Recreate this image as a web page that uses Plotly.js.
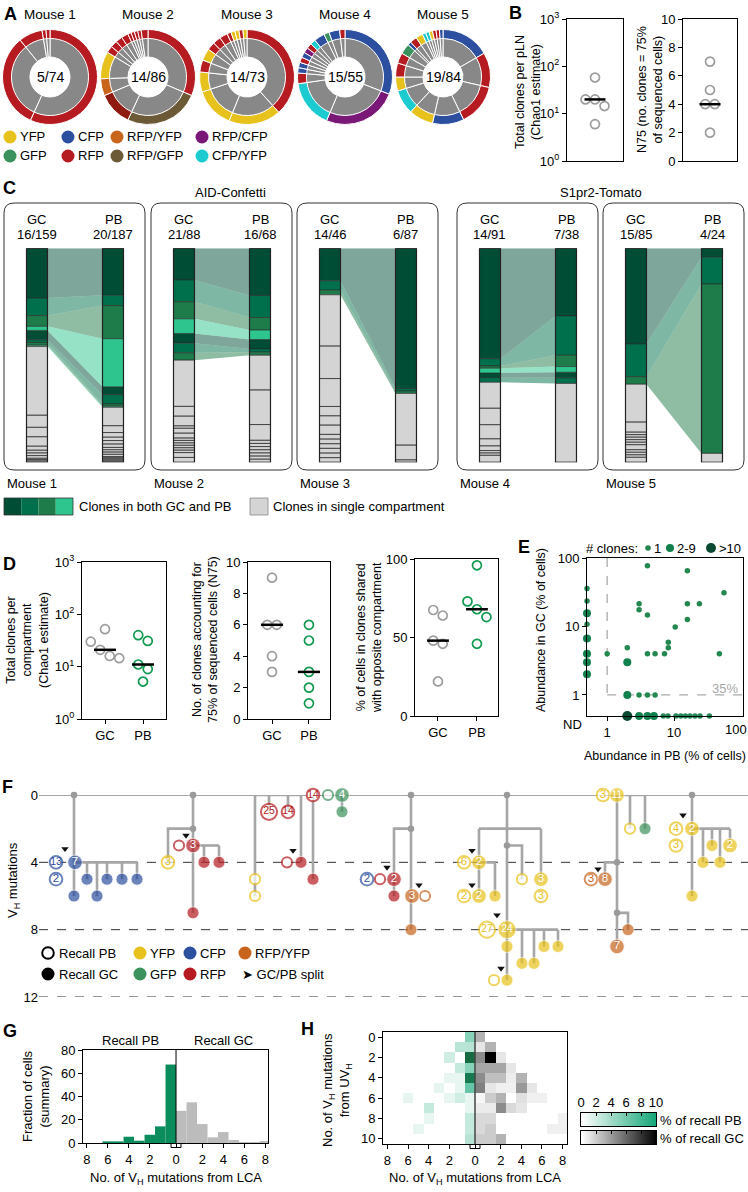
<!DOCTYPE html>
<html><head><meta charset="utf-8">
<script src="https://cdn.plot.ly/plotly-3.0.1.min.js"></script>
<style>html,body{margin:0;padding:0;background:#fff}#chart{width:748px;height:1192px}</style>
</head><body><div id="chart"></div>
<script>
const W = 748, H = 1192;
const FONT = 'Liberation Sans, Arial, Helvetica, sans-serif';
const fx = x => x / W, fy = y => 1 - y / H;

/* ================= DATA ================= */
// A: clone sizes (cells) per mouse, clockwise from 12 o'clock, and fluorescent colour codes
const aMice = ['Mouse 1','Mouse 2','Mouse 3','Mouse 4','Mouse 5'];
const aCenter = ['5/74','14/86','14/73','15/55','19/84'];
const aSizes = [
  [42,24,6,1,1],
  [27,22,10,5,8,2,2,2,2,1,1,1,1,2],
  [28,13,10,5,3,3,2,2,2,1,1,1,1,1],
  [17,14,9,2,1,1,1,1,1,1,1,2,1,2,1],
  [14,10,12,9,7,7,4,4,3,3,1,2,2,1,1,1,1,1,1]
];
const aColors = [
  ['R','R','R','R','R'],
  ['R','B','r','O','Y','R','R','R','R','R','R','R','R','R'],
  ['R','Y','Y','Y','R','Y','R','R','R','R','Y','Y','R','Y'],
  ['C','P','T','R','C','C','R','C','P','R','T','C','G','C','R'],
  ['C','R','R','C','Y','T','Y','R','R','G','C','R','Y','T','T','Y','R','R','C']
];
const aLegend = [['YFP','CFP','RFP/YFP','RFP/CFP'],['GFP','RFP','RFP/GFP','CFP/YFP']];
const aLegendCodes = [['Y','C','O','P'],['G','R','B','T']];

// B
const bChao1 = [58,20,20,14.5,6];
const bN75 = [7,5,4,4,2];

// C: cells per clone, shared clones (same order in GC and PB) and single-compartment clones
const cMice = ['Mouse 1','Mouse 2','Mouse 3','Mouse 4','Mouse 5'];
const cGCLabel = ['16/159','21/88','14/46','14/91','15/85'];
const cPBLabel = ['20/187','16/68','6/87','7/38','4/24'];
const cGCShared = [[37,13,8,3,7,2,2,1],[13,9,7,6,4,4,3],[7,2,1],[47,3,1,2,2,2],[38,13,3]];
const cPBShared = [[41,9,29,42,7,8,2,1],[15,7,4,3,3,1,1],[57,1,1],[12,7,2,1,1,1],[1,3,19]];
const cGCSingle = [[51,9,7,7,3,2,2,2,1,1,1],[19,4,4,1,2,2,1,1,1,1,1,1,2,2],[11,7,6,2,2,2,1,1,1,1,1,1],[11,7,6,3,2,1,1,3],[15,4,1,1,1,1,1,2,1,1,1,2]];
const cPBSingle = [[16,6,4,3,3,3,2,2,2,2,1,1,1,1,1],[11,11,5,1,1,1,1,1,1,1],[21,6,1],[14],[1]];

// D
const dChaoGC = [52,30,21,16,14.5], dChaoPB = [40,31,11,9,5.2];
const dN75GC = [9,6,6,4,3], dN75PB = [6,5,3,2,1];
const dSharedGC = [67.5,64,48,46,22], dSharedPB = [96,73,68,63,46];

// E: abundance (% of cells); 0 = not detected (ND); clone-count class 1: "1", 2: "2-9", 3: ">10"
const ePB = [0,0,0,0,0,0,0,0, 2,3,4,5,6.9,8.1,10.7,12.6,14.8,17.3,20.6,24.4,33.7,
  1,2,2,2,3,3,3,4,4,4,4,5.2,5.2,7.2,8.2,8.2,10.4,15.8,15.8,15.8,23.9,47.5,55.7];
const eGC = [36,23.6,15.6,10.8,6.7,4,3,2, 0,0,0,0,0,0,0,0,0,0,0,0,0,
  4,4.9,3,1,21.5,17.6,1,77,14.7,4,1,4,1,4,4.9,5.9,9.8,65,21.5,12.7,21.5,4,31];
const eClones = [1,1,2,1,2,2,2,2, 3,2,2,2,1,1,1,1,1,1,1,1,1,
  1,1,2,2,1,1,1,1,1,1,1,1,1,1,1,1,1,1,1,1,1,1,1];

// F: lineage trees. node = [position, VH mutations, fluor, open(recall PB)=1 / filled(recall GC)=0, cells label]
const fNodes = [
  [5.6,4,'C',1,'13'],[7.5,4,'C',0,'7'],[5.6,5,'C',1,'2'],[7.4,6,'C',0,''],[8.7,5,'C',0,''],[9.7,6,'C',0,''],[10.7,5,'C',0,''],[12.2,5,'C',0,''],[13.7,5,'C',0,''],
  [16.8,4,'Y',1,'3'],[17.9,3,'R',1,''],[19.3,3,'R',0,'3'],[20.4,4,'R',0,''],[21.9,4,'R',0,''],[19.3,7,'R',0,''],
  [25.5,5,'Y',1,''],[25.5,6,'Y',1,''],[26.9,1,'R',1,'25'],[28.8,1,'R',1,'14'],[28.7,4,'R',1,''],[30.1,4,'R',0,''],[31.3,0,'R',1,'14'],[31.3,5,'R',0,''],[32.8,0,'G',1,''],[34.2,0,'G',0,'4'],[34.2,1,'G',0,''],
  [36.7,5,'C',1,'2'],[38.0,5,'R',1,''],[39.4,5,'R',0,'2'],[39.4,6,'R',0,''],[41.2,6,'O',0,'3'],[42.5,6,'O',1,''],[41.1,8,'O',0,''],
  [46.4,4,'Y',1,'6'],[47.9,4,'Y',0,'2'],[49.5,6,'Y',0,''],[46.4,6,'Y',1,'2'],[47.9,6,'Y',0,'2'],[52.2,5,'Y',1,''],[54.1,5,'Y',0,'3'],[54.1,6,'Y',1,'3'],
  [48.7,8,'Y',1,'27'],[50.7,8,'Y',0,'24'],[50.7,9,'Y',0,''],[52.2,10,'Y',0,''],[53.4,10,'Y',0,''],[54.4,9,'Y',0,''],[55.8,9,'Y',0,''],[49.4,11,'Y',1,''],[50.7,11,'Y',0,''],
  [60.3,0,'Y',1,'3'],[61.7,0,'Y',0,'11'],[63.0,2,'Y',1,''],[64.5,2,'G',0,''],[59.1,5,'O',1,'3'],[60.5,5,'O',0,'8'],[62.8,8,'O',0,''],[61.7,9,'O',0,'7'],
  [67.6,2,'Y',1,'4'],[69.2,2,'Y',0,'2'],[67.6,3,'Y',1,'3'],[69.2,6,'Y',0,''],[70.3,4,'Y',0,''],[71.2,3,'Y',0,''],[72.0,4,'Y',0,''],[73.0,3,'Y',0,'2']
];
const fEdges = [
  [[7.4,0],[7.4,6]],[[7.4,4],[13.7,4]],[[8.7,4],[8.7,5]],[[9.7,4],[9.7,6]],[[10.7,4],[10.7,5]],[[12.2,4],[12.2,5]],[[13.7,4],[13.7,5]],
  [[19.3,0],[19.3,7]],[[19.3,2],[16.8,2],[16.8,4]],[[19.3,3],[21.9,3]],[[20.4,3],[20.4,4]],[[21.9,3],[21.9,4]],
  [[25.5,0],[30.1,0]],[[25.5,0],[25.5,6]],[[26.9,0],[26.9,1]],[[28.8,0],[28.8,1]],[[30.1,0],[30.1,4]],[[31.3,0],[31.3,5]],[[34.2,0],[34.2,1]],
  [[41.1,0],[41.1,8]],[[41.1,2],[39.4,2],[39.4,6]],
  [[50.7,0],[50.7,11]],[[47.9,2],[54.1,2]],[[47.9,2],[47.9,6]],[[47.9,4],[49.5,4],[49.5,6]],[[54.1,2],[54.1,5]],[[50.7,3],[52.2,3],[52.2,5]],
  [[50.7,8],[55.8,8]],[[52.2,8],[52.2,10]],[[53.4,8],[53.4,10]],[[54.4,8],[54.4,9]],[[55.8,8],[55.8,9]],
  [[61.7,0],[61.7,9]],[[61.7,0],[64.5,0],[64.5,2]],[[63.0,0],[63.0,2]],[[61.7,4],[60.5,4],[60.5,5]],[[61.7,7],[62.8,7],[62.8,8]],
  [[69.2,0],[69.2,6]],[[69.2,2],[73.0,2]],[[70.3,2],[70.3,4]],[[71.2,2],[71.2,3]],[[72.0,2],[72.0,4]],[[73.0,2],[73.0,3]]
];
const fBranch = [[7.4,0],[19.3,0],[41.1,0],[50.7,0],[69.2,0],[19.3,2],[41.1,2],[50.7,3],[61.7,4],[61.7,7]];
const fSplits = [[6.5,3.2],[18.6,2.4],[29.3,3.3],[33.5,-0.6],[38.7,4.3],[41.9,5.35],[47.2,3.3],[47.2,5.35],[49.7,7.13],[50.1,10.3],[60.9,-0.7],[59.8,4.4],[68.3,1.2]];
const fRoots = [7.3,19.3,29.0,41.1,50.7,63.7,69.2];

// G: % of cells by VH mutations from LCA (bins 0..8)
const gBins = [0,1,2,3,4,5,6,7,8];
const gPB = [67.5,14.3,7.1,2,5.4,1.4,1.4,0,0];
const gGC = [27.7,35,16.3,4.9,9.4,2.6,0.9,0.9,1.7];

// H: % of recall cells; rows = mutations from UVH (0..10), cols = mutations from LCA (0..8)
const hPB = [
  [5,0,0,0,0,0,0,0,0],[3,3,0,0,0,0,0,0,0],[12,0,2,0,0,0,0,0,0],[5,2.5,0,0,0,0,0,0,0],
  [11.5,1,1,0,0,0,0,0,0],[6.5,1,0,1,0,0,0,0,0],[1,2,1,0,0,0,1,0,0],[1,0,0,0,2.5,0,0,0,0],
  [2.5,0,0,0,1,0,0,0,0],[2.5,0,0,0,0,1,0,0,0],[3,0,0,0,0,0,0,0,0]];
const hGC = [
  [3,0,0,0,0,0,0,0,0],[1,3,0,0,0,0,0,0,0],[4.5,10,1,0,0,0,0,0,0],[3.5,3.5,3.5,1,0,0,0,0,0],
  [4.5,2.5,2.5,0.7,3,0,0,0,0],[5,1,0.6,0.6,4,1,0,0,0],[0.3,2,3,0,1.2,0.6,0.6,0,0],[0.8,0.8,4.5,1.5,1,0,0,0,0],
  [1.5,1.5,0,0,0,0,0,0,0.6],[1.5,2,0,0,0,0,0,0.6,0.6],[2,2,3,0,0,0,0,0,0]];
const hScale = [0,1,2,3,4,5,6,7,8,9,10];

/* ================= STYLE ================= */
const COL = {Y:'#e8c21c', C:'#2d4f9f', O:'#c8641c', P:'#7a1878', G:'#3c925c', R:'#b51b20', r:'#8e1a10', B:'#6c5a36', T:'#1ccbd0'};
const GREENS = ['#004d35','#00704c','#1e7b4a','#2ec68e'];
const RIBBON = ['rgba(0,77,53,0.5)','rgba(0,112,76,0.5)','rgba(30,123,74,0.5)','rgba(46,198,142,0.5)'];
const GRAYPT = '#9d9d9d', GREENPT = '#10994f';

const traces = [];
const layout = {width:W, height:H, margin:{l:0,r:0,t:0,b:0}, paper_bgcolor:'#fff', plot_bgcolor:'rgba(0,0,0,0)',
  showlegend:false, hovermode:false, barmode:'overlay', font:{family:FONT, size:13, color:'#000'}, shapes:[], annotations:[]};

let axN = 1;
function axes(xd, yd, xo, yo) {
  const n = axN++, s = n === 1 ? '' : String(n);
  layout['xaxis'+s] = Object.assign({domain:[fx(xd[0]), fx(xd[1])], anchor:'y'+s, showgrid:false, zeroline:false}, xo);
  layout['yaxis'+s] = Object.assign({domain:[fy(yd[1]), fy(yd[0])], anchor:'x'+s, showgrid:false, zeroline:false}, yo);
  return {x:'x'+s, y:'y'+s};
}
function txt(x, y, text, opt) {
  opt = opt || {};
  const font = Object.assign({family:FONT, size:13, color:'#000'}, opt.font || {});
  const a = Object.assign({xref:'paper', yref:'paper', x:fx(x), y:fy(y), text:text, showarrow:false, xanchor:'center', yanchor:'middle'}, opt);
  a.font = font; layout.annotations.push(a);
}
function circ(cx, cy, r, fill, lineColor, lw) {
  layout.shapes.push({type:'circle', xref:'paper', yref:'paper', x0:fx(cx-r), x1:fx(cx+r), y0:fy(cy+r), y1:fy(cy-r),
    fillcolor:fill, line:{color:lineColor || fill, width:lw || 0}, layer:'above'});
}
function rect(x0, y0, x1, y1, fill, lineColor, lw) {
  layout.shapes.push({type:'rect', xref:'paper', yref:'paper', x0:fx(x0), x1:fx(x1), y0:fy(y1), y1:fy(y0),
    fillcolor:fill, line:{color:lineColor || fill, width:lw || 0}, layer:'above'});
}
function rrect(x0, y0, x1, y1, r) {
  const X = fx, Y = fy;
  return `M${X(x0+r)},${Y(y0)} L${X(x1-r)},${Y(y0)} Q${X(x1)},${Y(y0)} ${X(x1)},${Y(y0+r)} L${X(x1)},${Y(y1-r)} Q${X(x1)},${Y(y1)} ${X(x1-r)},${Y(y1)} L${X(x0+r)},${Y(y1)} Q${X(x0)},${Y(y1)} ${X(x0)},${Y(y1-r)} L${X(x0)},${Y(y0+r)} Q${X(x0)},${Y(y0)} ${X(x0+r)},${Y(y0)} Z`;
}
const sum = a => a.reduce((s, v) => s + v, 0);
const median = a => { const s = a.slice().sort((p, q) => p - q); return s[Math.floor(s.length / 2)]; };
const tickFont = {family:FONT, size:13, color:'#000'};
const boxAx = {showline:true, mirror:true, linecolor:'#000', linewidth:1, ticks:'outside', ticklen:4, tickwidth:1, tickcolor:'#000', tickfont:tickFont};
const logTicks = {tickvals:[1,10,100,1000], ticktext:['10<sup>0</sup>','10<sup>1</sup>','10<sup>2</sup>','10<sup>3</sup>']};

/* ================= PANEL LETTERS ================= */
[['A',10,14],['B',515,13],['C',9,188],['D',9,564],['E',524,547],['F',8,787],['G',10,1031],['H',307,1029]].forEach(l =>
  txt(l[1], l[2], '<b>'+l[0]+'</b>', {font:{size:18}}));

/* ================= A ================= */
const aCx = [50,148,247,345,443], aCy = 77, aR = 47.5, aRin = 39;
aMice.forEach((m, i) => {
  const cx = aCx[i];
  traces.push({type:'pie', values:aSizes[i], sort:false, direction:'clockwise', rotation:0, hole:20/aRin, textinfo:'none',
    marker:{colors:aSizes[i].map(() => '#888888'), line:{color:'#fff', width:1}},
    domain:{x:[fx(cx-aRin), fx(cx+aRin)], y:[fy(aCy+aRin), fy(aCy-aRin)]}, hoverinfo:'skip'});
  traces.push({type:'pie', values:aSizes[i], sort:false, direction:'clockwise', rotation:0, hole:(aRin-0.5)/aR, textinfo:'none',
    marker:{colors:aColors[i].map(c => COL[c]), line:{color:'#fff', width:1}},
    domain:{x:[fx(cx-aR), fx(cx+aR)], y:[fy(aCy+aR), fy(aCy-aR)]}, hoverinfo:'skip'});
  txt(cx, 15, m, {font:{size:13.5}});
  txt(cx, aCy, aCenter[i], {font:{size:14}});
});
const aLegX = [10,68,117,202];
aLegend.forEach((row, ri) => row.forEach((lab, ci) => {
  const y = 137 + ri*19;
  circ(aLegX[ci], y, 6.5, COL[aLegendCodes[ri][ci]]);
  txt(aLegX[ci] + 8, y, lab, {xanchor:'left', font:{size:13}});
}));

/* ================= strip plots (B, D) ================= */
function swarm(vals, toPx, d) {
  const order = vals.map((v, i) => i).sort((a, b) => toPx(vals[a]) - toPx(vals[b]));
  const off = new Array(vals.length).fill(0);
  let group = [order[0]];
  const flush = g => g.forEach((i, j) => { off[i] = (j - (g.length - 1) / 2) * d; });
  for (let k = 1; k < order.length; k++) {
    const i = order[k], p = order[k-1];
    if (toPx(vals[i]) - toPx(vals[p]) < d * 0.95) group.push(i); else { flush(group); group = [i]; }
  }
  flush(group);
  return off;
}
function strip(ax, groups, colors, yTop, yBot, lo, hi, isLog, ppu, medHalf) {
  const toPx = v => { const t = isLog ? Math.log10(v) : v; return yTop + (hi - t) / (hi - lo) * (yBot - yTop); };
  groups.forEach((vals, gi) => {
    const off = swarm(vals, toPx, 9.5);
    traces.push({type:'scatter', mode:'markers', xaxis:ax.x, yaxis:ax.y, x:vals.map((v, i) => gi + off[i] / ppu), y:vals,
      marker:{symbol:'circle-open', size:9, color:colors[gi], line:{width:1.7}}, cliponaxis:false, hoverinfo:'skip'});
    const m = median(vals);
    traces.push({type:'scatter', mode:'lines', xaxis:ax.x, yaxis:ax.y, x:[gi - medHalf, gi + medHalf], y:[m, m],
      line:{color:'#000', width:2.5}, cliponaxis:false, hoverinfo:'skip'});
  });
}

/* ================= B ================= */
const b1 = axes([567,623],[19,161], Object.assign({}, boxAx, {range:[-1,1], ticks:'', showticklabels:false}),
  Object.assign({}, boxAx, logTicks, {type:'log', range:[0,3]}));
strip(b1, [bChao1], [GRAYPT], 19, 161, 0, 3, true, 28, 0.375);
const b2 = axes([683,737],[19,161], Object.assign({}, boxAx, {range:[-1,1], ticks:'', showticklabels:false}),
  Object.assign({}, boxAx, {range:[0,10], tickvals:[0,2,4,6,8,10]}));
strip(b2, [bN75], [GRAYPT], 19, 161, 0, 10, false, 27, 0.39);
txt(528, 92, 'Total clones per pLN<br>(Chao1 estimate)', {textangle:-90, font:{size:12.5}});
txt(650, 90, 'N75 (no. clones = 75%<br>of sequenced cells)', {textangle:-90, font:{size:12.5}});

/* ================= C ================= */
const cBoxLeft = [4,151,297,457,603];
layout.shapes.push(...cBoxLeft.map(x0 => ({type:'path', xref:'paper', yref:'paper', path:rrect(x0, 203, x0+141, 470, 10),
  line:{color:'#333', width:1}, fillcolor:'rgba(0,0,0,0)', layer:'below'})));
txt(230, 192, 'AID-Confetti');
txt(601, 192, 'S1pr2-Tomato');
cMice.forEach((name, mi) => {
  const x0 = cBoxLeft[mi];
  const ax = axes([x0, x0+141],[248.3,462.3], {range:[-0.434,1.421], visible:false}, {range:[1,0], visible:false});
  const hw = 0.138;
  const segs = (shared, single) => {
    const tot = sum(shared) + sum(single); let c = 0;
    const mk = v => { const s = [c / tot, (c + v) / tot]; c += v; return s; };
    return {shared: shared.map(mk), single: single.map(mk)};
  };
  const gc = segs(cGCShared[mi], cGCSingle[mi]);
  const pb = segs(cPBShared[mi], cPBSingle[mi]);
  const rib = [0,1,2,3].map(() => ({x:[], y:[]}));
  gc.shared.forEach((g, i) => {
    const p = pb.shared[i], r = rib[i % 4];
    r.x.push(hw, 1-hw, 1-hw, hw, null); r.y.push(g[0], p[0], p[1], g[1], null);
  });
  rib.forEach((r, i) => { if (r.x.length) traces.push({type:'scatter', mode:'none', fill:'toself', fillcolor:RIBBON[i],
    x:r.x, y:r.y, xaxis:ax.x, yaxis:ax.y, hoverinfo:'skip'}); });
  const groups = [0,1,2,3,4].map(() => ({x:[], y:[]}));
  [[gc,0],[pb,1]].forEach(([s, xc]) => {
    const add = (seg, gi) => { groups[gi].x.push(xc-hw, xc+hw, xc+hw, xc-hw, xc-hw, null); groups[gi].y.push(seg[0], seg[0], seg[1], seg[1], seg[0], null); };
    s.shared.forEach((seg, i) => add(seg, i % 4));
    s.single.forEach(seg => add(seg, 4));
  });
  groups.forEach((g, gi) => traces.push({type:'scatter', mode:'lines', fill:'toself', fillcolor: gi < 4 ? GREENS[gi] : '#d4d4d4',
    line:{color:'#2a2a2a', width:0.6}, x:g.x, y:g.y, xaxis:ax.x, yaxis:ax.y, hoverinfo:'skip'}));
  traces.push({type:'scatter', mode:'lines', line:{color:'#222', width:1.2}, xaxis:ax.x, yaxis:ax.y, hoverinfo:'skip',
    x:[-hw,hw,hw,-hw,-hw,null,1-hw,1+hw,1+hw,1-hw,1-hw], y:[0,0,1,1,0,null,0,0,1,1,0]});
  txt(x0+33, 219, 'GC'); txt(x0+33, 235, cGCLabel[mi]);
  txt(x0+109, 219, 'PB'); txt(x0+109, 235, cPBLabel[mi]);
  txt(x0+1, 483, name, {xanchor:'left'});
});
GREENS.forEach((c, i) => rect(4 + i*17.25, 498, 4 + (i+1)*17.25, 515, c));
rect(4, 498, 73, 515, 'rgba(0,0,0,0)', '#333', 0.8);
txt(77, 506.5, 'Clones in both GC and PB', {xanchor:'left'});
rect(250, 498, 268, 515, '#d4d4d4', '#888', 0.8);
txt(271, 506.5, 'Clones in single compartment', {xanchor:'left'});

/* ================= D ================= */
const d1 = axes([82,166],[562,719], Object.assign({}, boxAx, {range:[-0.605,1.605], tickvals:[0,1], ticktext:['GC','PB']}),
  Object.assign({}, boxAx, logTicks, {type:'log', range:[0,3]}));
strip(d1, [dChaoGC, dChaoPB], [GRAYPT, GREENPT], 562, 719, 0, 3, true, 38, 0.29);
const d2 = axes([248,330],[562,719], Object.assign({}, boxAx, {range:[-0.65,1.57], tickvals:[0,1], ticktext:['GC','PB']}),
  Object.assign({}, boxAx, {range:[0,10], tickvals:[0,2,4,6,8,10]}));
strip(d2, [dN75GC, dN75PB], [GRAYPT, GREENPT], 562, 719, 0, 10, false, 37, 0.3);
const d3 = axes([415,498],[559,716], Object.assign({}, boxAx, {range:[-0.59,1.54], tickvals:[0,1], ticktext:['GC','PB']}),
  Object.assign({}, boxAx, {range:[0,100], tickvals:[0,50,100]}));
strip(d3, [dSharedGC, dSharedPB], [GRAYPT, GREENPT], 559, 716, 0, 100, false, 39, 0.28);
txt(27, 640, 'Total clones per<br>compartment<br>(Chao1 estimate)', {textangle:-90, font:{size:12.5}});
txt(205, 640, 'No. of clones accounting for<br>75% of sequenced cells (N75)', {textangle:-90, font:{size:12.5}});
txt(369, 638, '% of cells in clones shared<br>with opposite compartment', {textangle:-90, font:{size:12.5}});

/* ================= E ================= */
const eXr = [-0.301, 2.03], eYr = [-0.307, 2];
const e = axes([587,743],[558,716], Object.assign({}, boxAx, {type:'log', range:eXr, tickvals:[1,10]}),
  Object.assign({}, boxAx, {type:'log', range:eYr, tickvals:[1,10,100]}));
traces.push({type:'scatter', mode:'lines', xaxis:e.x, yaxis:e.y, x:[1,1,null,1,Math.pow(10,eXr[1])], y:[100,1,null,1,1],
  line:{color:'#aaaaaa', width:1.3, dash:'dash'}, hoverinfo:'skip'});
// tick mark for 100 on the x axis (label placed as text so it is not hidden at the page edge)
traces.push({type:'scatter', mode:'lines', xaxis:e.x, yaxis:e.y, x:[100,100], y:[Math.pow(10,eYr[0]), Math.pow(10,eYr[0]-0.06)],
  line:{color:'#000', width:1}, cliponaxis:false, hoverinfo:'skip'});
const eStyle = {1:{s:5.5, c:'#23884f'}, 2:{s:8, c:'#11804c'}, 3:{s:10, c:'#0a4a32'}};
[1,2,3].forEach(k => {
  const idx = eClones.map((c, i) => c === k ? i : -1).filter(i => i >= 0);
  traces.push({type:'scatter', mode:'markers', xaxis:e.x, yaxis:e.y, cliponaxis:false, hoverinfo:'skip',
    x:idx.map(i => ePB[i] === 0 ? Math.pow(10, eXr[0]) : ePB[i]),
    y:idx.map(i => eGC[i] === 0 ? Math.pow(10, eYr[0]) : eGC[i]),
    marker:{size:eStyle[k].s, color:eStyle[k].c, line:{width:0}}});
});
txt(736, 729, '100');
txt(740, 688, '35%', {xanchor:'right', font:{color:'#a8a8a8', size:13}});
txt(572, 724, 'ND');
txt(541, 630, 'Abundance in GC (% of cells)', {textangle:-90, font:{size:12.5}});
txt(665, 756, 'Abundance in PB (% of cells)', {font:{size:12.5}});
txt(640, 548, '# clones:', {xanchor:'right'});
circ(648, 548, 2.8, eStyle[1].c); txt(652, 548, '1', {xanchor:'left'});
circ(670, 548, 4, eStyle[2].c); txt(675, 548, '2-9', {xanchor:'left'});
circ(711, 548, 5, eStyle[3].c); txt(717, 548, '>10', {xanchor:'left'});

/* ================= F ================= */
const f = axes([39,748],[795,997], {range:[3.9,74.8], visible:false},
  {range:[12,0], tickvals:[0,4,8,12], ticks:'', showline:false, tickfont:tickFont});
layout.shapes.push({type:'line', xref:'paper', yref:f.y, x0:fx(39), x1:1, y0:0, y1:0, line:{color:'#8a8a8a', width:1.5}, layer:'below'});
[4,8,12].forEach(m => layout.shapes.push({type:'line', xref:'paper', yref:f.y, x0:fx(39), x1:1, y0:m, y1:m,
  line:{color:'#333', width:1, dash:'dash'}, layer:'below'}));
const ex = [], ey = [];
fEdges.forEach(pl => { pl.forEach(p => { ex.push(p[0]); ey.push(p[1]); }); ex.push(null); ey.push(null); });
traces.push({type:'scatter', mode:'lines', xaxis:f.x, yaxis:f.y, x:ex, y:ey, line:{color:'#a6a6a6', width:2.6}, hoverinfo:'skip'});
traces.push({type:'scatter', mode:'markers', xaxis:f.x, yaxis:f.y, x:fBranch.map(p => p[0]), y:fBranch.map(p => p[1]),
  marker:{size:6.5, color:'#9a9a9a'}, cliponaxis:false, hoverinfo:'skip'});
const nSize = l => !l ? 12 : (+l >= 20 ? 18 : 14.5);
[1,0].forEach(open => {
  const nd = fNodes.filter(n => n[3] === open);
  traces.push({type:'scatter', mode:'markers', xaxis:f.x, yaxis:f.y, cliponaxis:false, hoverinfo:'skip',
    x:nd.map(n => n[0]), y:nd.map(n => n[1]),
    marker:{symbol:'circle', size:nd.map(n => nSize(n[4]) - (open ? 1.8 : 0)), color:nd.map(n => open ? '#fff' : COL[n[2]]),
      line:{color:nd.map(n => open ? COL[n[2]] : '#fff'), width:open ? 2 : 0.8}}});
  const lab = nd.filter(n => n[4] !== '');
  traces.push({type:'scatter', mode:'text', xaxis:f.x, yaxis:f.y, cliponaxis:false, hoverinfo:'skip',
    x:lab.map(n => n[0]), y:lab.map(n => n[1]), text:lab.map(n => n[4]), textposition:'middle center',
    textfont:{family:FONT, size:lab.map(n => n[4].length > 1 ? 10.5 : 11.5), color:lab.map(n => open ? COL[n[2]] : '#fff')}});
});
traces.push({type:'scatter', mode:'markers', xaxis:f.x, yaxis:f.y, cliponaxis:false, hoverinfo:'skip',
  x:fSplits.map(p => p[0]), y:fSplits.map(p => p[1]), marker:{symbol:'triangle-down', size:6.5, color:'#111'}});
fRoots.forEach(r => layout.annotations.push({xref:f.x, yref:f.y, x:r, y:-0.6, text:'UV<sub>H</sub>', showarrow:false,
  xanchor:'center', yanchor:'middle', font:{family:FONT, size:13, color:'#000'}}));
txt(13, 880, 'V<sub>H</sub> mutations', {textangle:-90, font:{size:13}});
circ(48, 953, 5.8, '#fff', '#000', 2); txt(57, 953, 'Recall PB', {xanchor:'left'});
circ(48, 974, 6.5, '#000'); txt(57, 974, 'Recall GC', {xanchor:'left'});
[['Y',140,953,'YFP'],['C',190,953,'CFP'],['O',245,953,'RFP/YFP'],['G',140,974,'GFP'],['R',190,974,'RFP']].forEach(l => {
  circ(l[1], l[2], 6.5, COL[l[0]]); txt(l[1] + 7.5, l[2], l[3], {xanchor:'left'});
});
txt(240, 974, '➤ GC/PB split', {xanchor:'left'});

/* ================= G ================= */
const mirrorTicks = {tickvals:[-8.5,-6.5,-4.5,-2.5,0,2.5,4.5,6.5,8.5], ticktext:['8','6','4','2','0','2','4','6','8']};
const g = axes([83,268],[1050,1143], Object.assign({}, boxAx, mirrorTicks, {range:[-8.86,8.76]}),
  Object.assign({}, boxAx, {range:[0,80], tickvals:[0,20,40,60,80]}));
traces.push({type:'bar', xaxis:g.x, yaxis:g.y, x:gBins.map(k => -(k + 0.5)), y:gPB, width:1,
  marker:{color:'#0b8c5c', line:{width:0}}, hoverinfo:'skip'});
traces.push({type:'bar', xaxis:g.x, yaxis:g.y, x:gBins.map(k => k + 0.5), y:gGC, width:1,
  marker:{color:'#bcbcbc', line:{width:0}}, hoverinfo:'skip'});
layout.shapes.push({type:'line', xref:g.x, yref:g.y, x0:0, x1:0, y0:0, y1:80, line:{color:'#000', width:1}});
layout.shapes.push({type:'path', xref:'paper', yref:'paper', line:{color:'#000', width:1},
  path:`M${fx(171)},${fy(1143.5)} L${fx(171)},${fy(1147.5)} L${fx(181)},${fy(1147.5)} L${fx(181)},${fy(1143.5)}`});
txt(130, 1040, 'Recall PB'); txt(223, 1040, 'Recall GC');
txt(36, 1096, 'Fraction of cells<br>(summary)', {textangle:-90, font:{size:13}});
txt(176, 1178, 'No. of V<sub>H</sub> mutations from LCA');

/* ================= H ================= */
const h = axes([383,567],[1032,1144], Object.assign({}, boxAx, mirrorTicks, {range:[-8.93,8.93]}),
  Object.assign({}, boxAx, {range:[10.5,-0.5], tickvals:[0,2,4,6,8,10]}));
const greenScale = [[0,'#ffffff'],[0.83,'#13a676'],[1,'#176b42']];
const grayScale = [[0,'#ffffff'],[1,'#000000']];
const rowsH = hPB.map((r, i) => i);
traces.push({type:'heatmap', xaxis:h.x, yaxis:h.y, x:gBins.slice().reverse().map(k => -(k + 0.5)), y:rowsH,
  z:hPB.map(r => r.slice().reverse()), colorscale:greenScale, zmin:0, zmax:12, showscale:false, hoverinfo:'skip'});
traces.push({type:'heatmap', xaxis:h.x, yaxis:h.y, x:gBins.map(k => k + 0.5), y:rowsH,
  z:hGC, colorscale:grayScale, zmin:0, zmax:10, showscale:false, hoverinfo:'skip'});
layout.shapes.push({type:'line', xref:h.x, yref:'paper', x0:0, x1:0, y0:fy(1144), y1:fy(1032), line:{color:'#444', width:1.5}});
layout.shapes.push({type:'path', xref:'paper', yref:'paper', line:{color:'#000', width:1},
  path:`M${fx(470)},${fy(1144.5)} L${fx(470)},${fy(1148.5)} L${fx(480)},${fy(1148.5)} L${fx(480)},${fy(1144.5)}`});
txt(337, 1090, 'No. of V<sub>H</sub> mutations<br>from UV<sub>H</sub>', {textangle:-90, font:{size:13}});
txt(475, 1178, 'No. of V<sub>H</sub> mutations from LCA');
const cbX = {range:[0,10], side:'top', showline:true, mirror:true, linecolor:'#000', linewidth:1, ticks:'inside', ticklen:3,
  tickcolor:'#000', tickvals:[0,2,4,6,8,10], tickfont:tickFont};
const cb1 = axes([581,656],[1113,1126], Object.assign({}, cbX), {range:[0,1], showline:true, mirror:true, linecolor:'#000', showticklabels:false, ticks:''});
const cb2 = axes([581,656],[1131,1144], Object.assign({}, cbX, {showticklabels:false}), {range:[0,1], showline:true, mirror:true, linecolor:'#000', showticklabels:false, ticks:''});
traces.push({type:'heatmap', xaxis:cb1.x, yaxis:cb1.y, x:hScale, y:[0.5], z:[hScale], colorscale:greenScale, zmin:0, zmax:12,
  zsmooth:'best', showscale:false, hoverinfo:'skip'});
traces.push({type:'heatmap', xaxis:cb2.x, yaxis:cb2.y, x:hScale, y:[0.5], z:[hScale], colorscale:grayScale, zmin:0, zmax:10,
  zsmooth:'best', showscale:false, hoverinfo:'skip'});
txt(658, 1120, '% of recall PB', {xanchor:'left'});
txt(658, 1138, '% of recall GC', {xanchor:'left'});

Plotly.newPlot('chart', traces, layout, {staticPlot:true, displayModeBar:false});
</script>
</body></html>
